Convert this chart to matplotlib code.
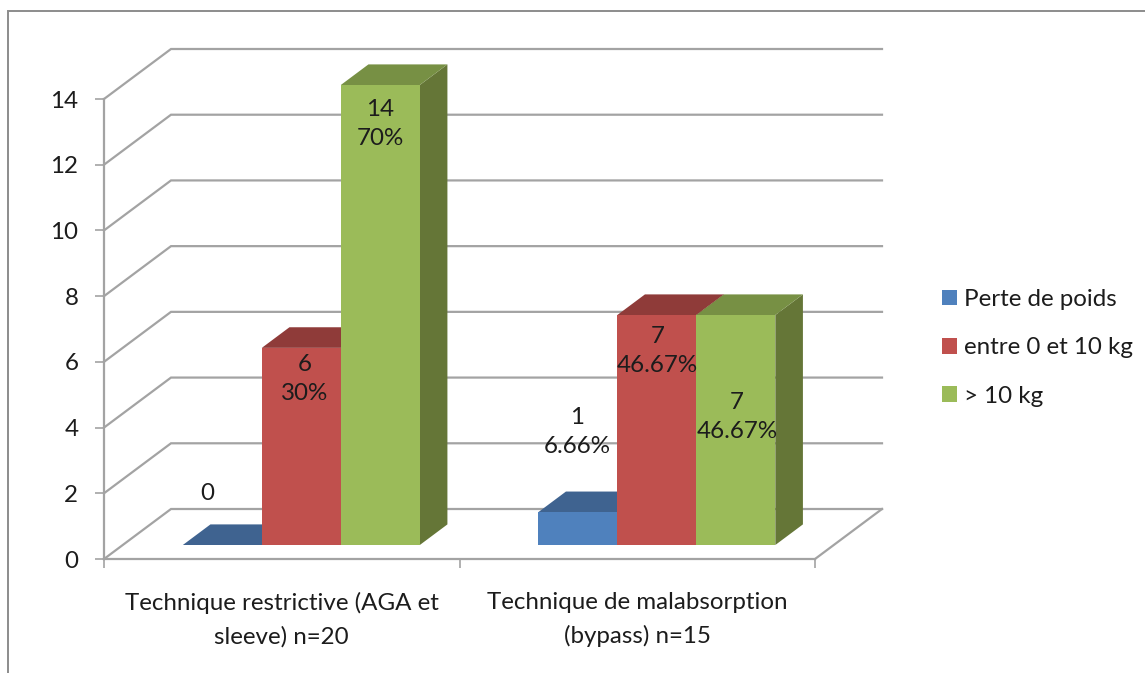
import matplotlib
matplotlib.use("Agg")
import matplotlib.pyplot as plt
from matplotlib.lines import Line2D
from matplotlib.patches import Patch

categories = ["Technique restrictive (AGA et\nsleeve) n=20", "Technique de malabsorption\n(bypass) n=15"]
series_names = ["Perte de poids", "entre 0 et 10 kg", "> 10 kg"]
perte_values = [0, 1]
entre_values = [6, 7]
plus_values = [14, 7]
perte_labels = ["0", "1\n6.66%"]
entre_labels = ["6\n30%", "7\n46.67%"]
plus_labels = ["14\n70%", "7\n46.67%"]
y_ticks = [0, 2, 4, 6, 8, 10, 12, 14]

# style / layout
W, H = 1145, 673
L, R, T, B = 104, 815, 99, 559
DX = 67 / ((R - L) / 2)      # full depth in category units
DY = 50 / ((B - T) / 14)     # full depth in value units
D0, D1 = 14 / 50, 34.6 / 50  # bar depth extent
GAP, BW = 0.169, 0.2222
GRID = "#A3A3A3"
TXT = "#1c1c1c"
front = ["#4F81BD", "#C0504D", "#9BBB59"]
top = ["#3F6390", "#8F3B39", "#779044"]
side = ["#3A5C85", "#87312F", "#657637"]
label_off = [[(-15, 51), (-1, 80)], [(3.5, -31), (0.5, -36)], [(0, -39), (1, -102)]]

plt.rcParams["font.family"] = ["Lato", "DejaVu Sans"]
FS = 17.4

fig = plt.figure(figsize=(W / 100, H / 100), dpi=100, facecolor="white")
ax = fig.add_axes([L / W, 1 - B / H, (R - L) / W, (B - T) / H])
ax.set_xlim(0, 2)
ax.set_ylim(0, 14)
ax.patch.set_visible(False)
for s in ("top", "right"):
    ax.spines[s].set_visible(False)
for s in ("left", "bottom"):
    ax.spines[s].set_color(GRID)
    ax.spines[s].set_linewidth(1.6)

ax.set_yticks(y_ticks)
ax.set_xticks([0, 1, 2])
ax.set_xticklabels([])
ax.set_xticks([0.5, 1.5], minor=True)
ax.set_xticklabels(categories, minor=True, fontsize=FS, color=TXT, linespacing=1.65)
ax.tick_params(axis="y", length=6.5, width=1.2, color=GRID, labelsize=FS, labelcolor=TXT, pad=12)
ax.tick_params(axis="x", which="major", length=6.5, width=1.2, color=GRID)
ax.tick_params(axis="x", which="minor", length=0, pad=24)

# back wall gridlines and floor edge
for v in y_ticks:
    ax.plot([0, DX, 2 + DX], [v, v + DY, v + DY], color=GRID, lw=1.6, clip_on=False, zorder=1,
            solid_joinstyle="miter")
ax.plot([2, 2 + DX], [0, DY], color=GRID, lw=1.6, clip_on=False, zorder=1)

# bars
series = [perte_values, entre_values, plus_values]
labels = [perte_labels, entre_labels, plus_labels]
z = 2
for c in range(2):
    for j, vals in enumerate(series):
        v = vals[c]
        x0 = c + GAP + j * BW + D0 * DX
        x1 = x0 + BW
        y0 = D0 * DY
        y1 = y0 + v
        ox, oy = (D1 - D0) * DX, (D1 - D0) * DY
        ax.fill([x1, x1 + ox, x1 + ox, x1], [y0, y0 + oy, y1 + oy, y1], color=side[j], lw=0,
                clip_on=False, zorder=z)
        ax.fill([x0, x1, x1 + ox, x0 + ox], [y1, y1, y1 + oy, y1 + oy], color=top[j], lw=0,
                clip_on=False, zorder=z)
        ax.bar(x0, v, width=BW, bottom=y0, align="edge", color=front[j], lw=0, clip_on=False, zorder=z)
        z += 1
for c in range(2):
    for j, vals in enumerate(series):
        x = c + GAP + (j + 0.5) * BW + D0 * DX
        y = D0 * DY + vals[c]
        ax.annotate(labels[j][c], (x, y), xytext=label_off[j][c], textcoords="offset pixels",
                    ha="center", va="center", multialignment="center", fontsize=FS, color=TXT,
                    linespacing=1.46, zorder=50, annotation_clip=False)

# legend
handles = [Patch(facecolor=front[i], edgecolor="none", label=series_names[i]) for i in range(3)]
fig.legend(handles=handles, loc="upper left", bbox_to_anchor=(942 / W, 1 - 289 / H),
           frameon=False, fontsize=FS, handlelength=0.62, handleheight=0.62, handletextpad=0.3,
           labelspacing=1.13, labelcolor=TXT, borderpad=0, borderaxespad=0)

# chart frame
fig.add_artist(Line2D([8 / W, 8 / W, 1], [0, 1 - 11 / H, 1 - 11 / H], color="#8C8C8C", lw=1.4,
                      transform=fig.transFigure, solid_joinstyle="miter"))

fig.savefig("out.png", dpi=100, facecolor="white")
